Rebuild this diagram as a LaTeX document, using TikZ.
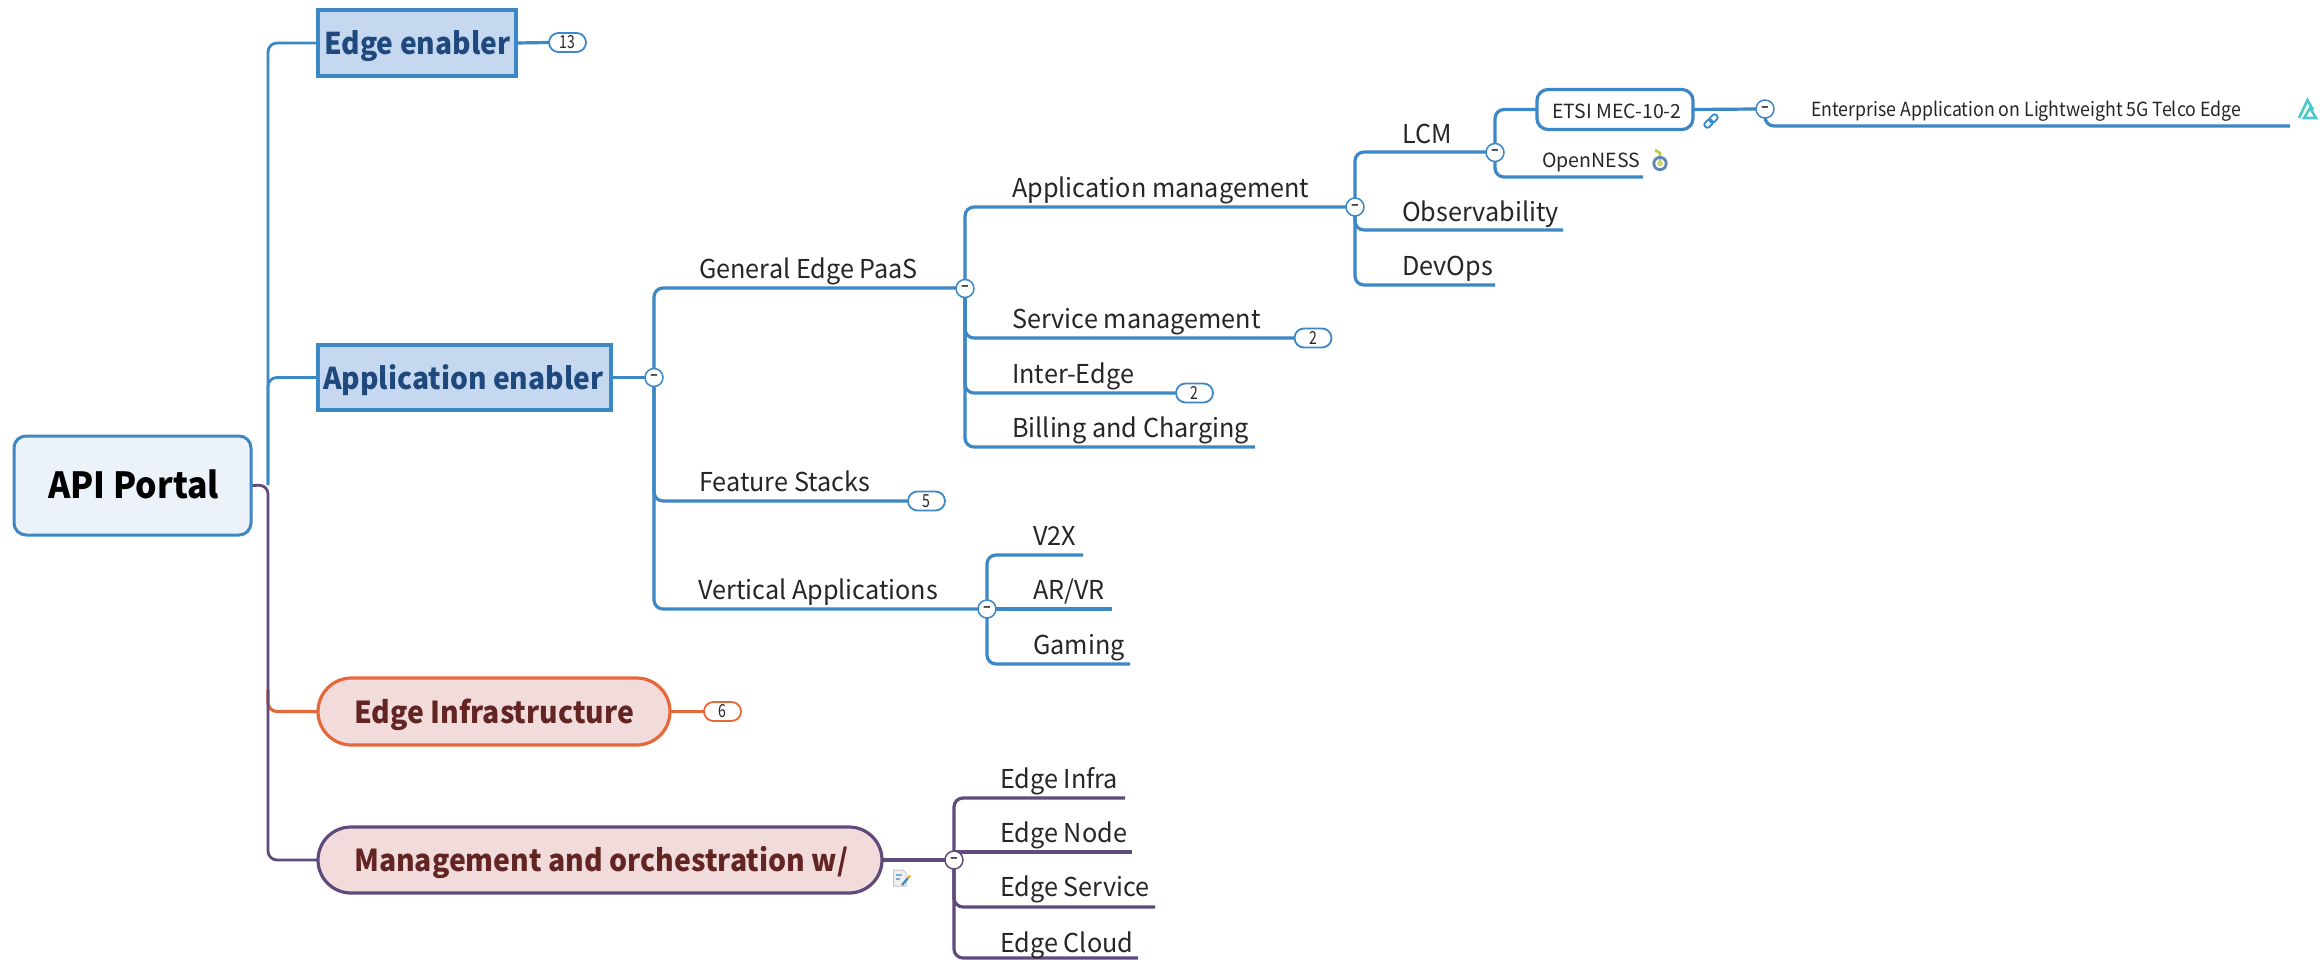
\documentclass[tikz,border=0pt]{standalone}
\usepackage{fontspec}
\setmainfont{Noto Sans CJK SC}
\newfontfamily\narrowf[FakeStretch=.94]{Noto Sans CJK SC}
\newfontfamily\labelf[FakeStretch=.97]{Noto Sans CJK SC}
\newfontfamily\entf[FakeStretch=.91]{Noto Sans CJK SC}
\newfontfamily\badgef[FakeStretch=.78]{Noto Sans CJK SC}
\usetikzlibrary{shapes.misc}
\definecolor{cblue}{HTML}{3C87C5}
\definecolor{fblue}{HTML}{C6D8F0}
\definecolor{tblue}{HTML}{1F497D}
\definecolor{froot}{HTML}{ECF2F9}
\definecolor{corange}{HTML}{E4683A}
\definecolor{fred}{HTML}{F2DCDB}
\definecolor{tred}{HTML}{632523}
\definecolor{cpurple}{HTML}{604A7B}
\definecolor{ctext}{HTML}{262626}
\definecolor{cteal}{HTML}{4CC9C9}
\definecolor{csprout}{HTML}{B9CC3A}
\definecolor{cring}{HTML}{5F86B5}
\newcommand\fsz[1]{\fontsize{#1}{#1}\selectfont}
\tikzset{
 conn/.style={draw=cblue,line width=3.2pt,rounded corners=9pt},
 rootbox/.style={draw=cblue,fill=froot,line width=3pt,rounded corners=12pt,inner sep=0pt,text=black},
 bluebox/.style={draw=cblue,fill=fblue,line width=3.2pt,inner sep=0pt},
 pillbox/.style={rounded rectangle,fill=fred,line width=3.2pt,inner sep=0pt},
 etsibox/.style={draw=cblue,fill=white,line width=3.2pt,rounded corners=11pt,inner sep=0pt},
 lbl/.style={anchor=base west,inner sep=0pt,text=ctext,font=\labelf\fsz{26}},
 lblsm/.style={anchor=base west,inner sep=0pt,text=ctext,font=\fsz{19.5}},
 hblue/.style={anchor=base west,inner sep=0pt,text=tblue,font=\narrowf\bfseries\fsz{30}},
 hred/.style={anchor=base west,inner sep=0pt,text=tred,font=\narrowf\bfseries\fsz{30.2}},
 collapse/.style={circle,draw=#1,fill=white,line width=1.5pt,minimum size=18pt,inner sep=0pt,font=\bfseries\fsz{14},text=ctext,text depth=0pt},
 collapse/.default=cblue,
 badge/.style={rounded rectangle,draw=#1,fill=white,line width=1.8pt,minimum width=37pt,minimum height=19pt,inner sep=0pt,font=\badgef\fsz{18},text=ctext},
 badge/.default=cblue,
}
\begin{document}
\begin{tikzpicture}[x=1pt,y=-1pt]
\useasboundingbox (0,0) rectangle (2320,959);
\fill[white] (0,0) rectangle (2320,959);

% fixed points of the connectors
\coordinate (trunk) at (268,485);
\coordinate (e-gep) at (965,288);
\coordinate (e-am) at (1355,207);
\coordinate (e-lcm) at (1495,152);
\coordinate (e-ent) at (2290,126);
\coordinate (e-open) at (1643,177);
\coordinate (e-obs) at (1563,230);
\coordinate (e-dev) at (1495,285);
\coordinate (e-bil) at (1255,447);
\coordinate (e-va) at (987,609);
\coordinate (e-v2x) at (1083,555);
\coordinate (e-ar) at (1112,609);
\coordinate (e-gam) at (1130,664);
\coordinate (e-inf) at (1125,798);
\coordinate (e-nod) at (1132,852);
\coordinate (e-svc) at (1155,907);
\coordinate (e-clo) at (1138,958);
\coordinate (p-orange) at (268,690);

% boxes, invisible first so that connectors can refer to them
\path
 node[minimum width=237pt,minimum height=99pt,inner sep=0pt] (root) at (132.5,485.5) {}
 node[minimum width=198pt,minimum height=66pt,inner sep=0pt] (ee) at (417,43) {}
 node[minimum width=293pt,minimum height=65pt,inner sep=0pt] (ae) at (464.5,377.5) {}
 node[minimum width=352pt,minimum height=67pt,inner sep=0pt] (ei) at (494,711.5) {}
 node[minimum width=564pt,minimum height=66pt,inner sep=0pt] (mo) at (600,860) {}
 node[minimum width=156pt,minimum height=40pt,inner sep=0pt] (etsi) at (1615,109.5) {}
 node[minimum size=18pt,inner sep=0pt] (c-ae) at (654,377.5) {}
 node[minimum size=18pt,inner sep=0pt] (c-gep) at (965,288.5) {}
 node[minimum size=18pt,inner sep=0pt] (c-am) at (1355,207) {}
 node[minimum size=18pt,inner sep=0pt] (c-lcm) at (1495,152.5) {}
 node[minimum size=18pt,inner sep=0pt] (c-etsi) at (1765,109) {}
 node[minimum size=18pt,inner sep=0pt] (c-va) at (987,609) {}
 node[minimum size=18pt,inner sep=0pt] (c-mo) at (954,860) {}
 node[minimum width=37pt,minimum height=19pt,inner sep=0pt] (b13) at (567.5,42.5) {}
 node[minimum width=37pt,minimum height=19pt,inner sep=0pt] (b-sm) at (1313,338) {}
 node[minimum width=37pt,minimum height=19pt,inner sep=0pt] (b-ie) at (1194.5,393) {}
 node[minimum width=37pt,minimum height=19pt,inner sep=0pt] (b-fs) at (926.5,501) {}
 node[minimum width=37pt,minimum height=19pt,inner sep=0pt] (b-ei) at (722.5,711.5) {};

% level 1
\draw[conn,draw=corange] (p-orange) |- (ei.west);
\draw[conn,draw=cpurple,line width=2.8pt] (root.east) -- (trunk) |- (mo.west);
\draw[conn,line width=2.8pt] (trunk) |- (ee.west);
\draw[conn,line width=2.8pt] (trunk) |- (ae.west);
\draw[conn] (ee.east) -- (b13.west);
\draw[conn] (ae.east) -- (c-ae.west);
\draw[conn,draw=corange] (ei.east) -- (b-ei.west);
\draw[conn,draw=cpurple] (mo.east) -- (c-mo.west);
% application enabler
\draw[conn] (c-ae.center) |- (e-gep);
\draw[conn] (c-ae.center) |- (b-fs.west);
\draw[conn] (c-ae.center) |- (e-va);
% general edge paas
\draw[conn] (c-gep.center) |- (e-am);
\draw[conn] (c-gep.center) |- (b-sm.west);
\draw[conn] (c-gep.center) |- (b-ie.west);
\draw[conn] (c-gep.center) |- (e-bil);
% application management
\draw[conn] (c-am.center) |- (e-lcm);
\draw[conn] (c-am.center) |- (e-obs);
\draw[conn] (c-am.center) |- (e-dev);
% LCM
\draw[conn] (c-lcm.center) |- (etsi.west);
\draw[conn] (c-lcm.center) |- (e-open);
\draw[conn] (etsi.east) -- (c-etsi.west);
\draw[conn] (c-etsi.center) |- (e-ent);
% vertical applications
\draw[conn] (c-va.center) |- (e-v2x);
\draw[conn] (c-va.center) -- (e-ar);
\draw[conn] (c-va.center) |- (e-gam);
% management
\draw[conn,draw=cpurple] (c-mo.center) |- (e-inf);
\draw[conn,draw=cpurple] (c-mo.center |- e-nod) -- (e-nod);
\draw[conn,draw=cpurple] (c-mo.center) |- (e-svc);
\draw[conn,draw=cpurple] (c-mo.center) |- (e-clo);

% visible shapes
\node[rootbox,minimum width=237pt,minimum height=99pt] at (root.center) {};
\node[bluebox,minimum width=198pt,minimum height=66pt] at (ee.center) {};
\node[bluebox,minimum width=293pt,minimum height=65pt] at (ae.center) {};
\node[pillbox,draw=corange,minimum width=352pt,minimum height=67pt] at (ei.center) {};
\node[pillbox,draw=cpurple,minimum width=564pt,minimum height=66pt] at (mo.center) {};
\node[etsibox,minimum width=156pt,minimum height=40pt] at (etsi.center) {};
\node[collapse] at (c-ae.center) {–};
\node[collapse] at (c-gep.center) {–};
\node[collapse] at (c-am.center) {–};
\node[collapse] at (c-lcm.center) {–};
\node[collapse] at (c-etsi.center) {–};
\node[collapse] at (c-va.center) {–};
\node[collapse=cpurple] at (c-mo.center) {–};
\node[badge] at (b13.center) {13};
\node[badge] at (b-sm.center) {2};
\node[badge] at (b-ie.center) {2};
\node[badge] at (b-fs.center) {5};
\node[badge=corange] at (b-ei.center) {6};

% heading texts
\node[anchor=base west,inner sep=0pt,text=black,font=\narrowf\bfseries\fsz{36}] (t-root) at (48,498) {API Portal};
\node[hblue] (t-ee) at (324,54) {Edge enabler};
\node[hblue] (t-ae) at (323,389) {Application enabler};
\node[hred] (t-ei) at (354,723) {Edge Infrastructure};
\node[hred] (t-mo) at (354,871) {Management and orchestration w/};

% topic texts
\node[lbl] (t-gep) at (699,278) {General Edge PaaS};
\node[lbl] (t-am) at (1012,197) {Application management};
\node[lbl] (t-lcm) at (1402,143) {LCM};
\node[lbl] (t-obs) at (1402,221) {Observability};
\node[lbl] (t-dev) at (1402,275) {DevOps};
\node[lbl] (t-sm) at (1012,328) {Service management};
\node[lbl] (t-ie) at (1012,383) {Inter-Edge};
\node[lbl] (t-bil) at (1012,437) {Billing and Charging};
\node[lbl] (t-fs) at (699,491) {Feature Stacks};
\node[lbl] (t-va) at (698,599) {Vertical Applications};
\node[lbl] (t-v2x) at (1033,545) {V2X};
\node[lbl] (t-ar) at (1033,599) {AR/VR};
\node[lbl] (t-gam) at (1033,654) {Gaming};
\node[lbl] (t-inf) at (1000,788) {Edge Infra};
\node[lbl] (t-nod) at (1000,842) {Edge Node};
\node[lbl] (t-svc) at (1000,896) {Edge Service};
\node[lbl] (t-clo) at (1000,952) {Edge Cloud};
\node[lblsm] (t-etsi) at (1552,118) {ETSI MEC-10-2};
\node[lblsm] (t-open) at (1542,167) {OpenNESS};
\node[anchor=base west,inner sep=0pt,text=ctext,font=\entf\fsz{19.5}] (t-ent) at (1811,116) {Enterprise Application on Lightweight 5G Telco Edge};

% link icon
\begin{scope}[shift={(1711,121)},rotate=45]
\draw[cblue,line width=1.8pt,rounded corners=2.5pt] (-8,-3) rectangle (1,3);
\draw[cblue,line width=1.8pt,rounded corners=2.5pt] (-1,-3) rectangle (8,3);
\end{scope}
% triangle logo
\draw[cteal,line width=2.6pt,line join=miter] (2299,118) -- (2307.5,100) -- (2313,110);
\draw[cteal,line width=2.6pt,line join=miter] (2304,118) -- (2310,108) -- (2316,118) -- cycle;
% OpenNESS logo
\draw[csprout,line width=2.6pt] (1660,162) -- (1660,153) -- (1655,150);
\draw[cring,line width=2.8pt] (1660,163.5) circle[radius=6.2pt];
\fill[csprout!70!white] (1660,163.5) circle[radius=3pt];
% note icon
\draw[gray!45,fill=gray!12,line width=1pt] (893.5,870) -- (903,870) -- (906,873) -- (906,886) -- (893.5,886) -- cycle;
\draw[cblue!70,line width=1.2pt] (896,875) -- (902,875) (896,879) -- (900,879);
\draw[cblue,line width=2.2pt] (902,885) -- (908,878);
\draw[orange!80!yellow,line width=2pt] (908,878) -- (910,875.5);
\end{tikzpicture}
\end{document}
